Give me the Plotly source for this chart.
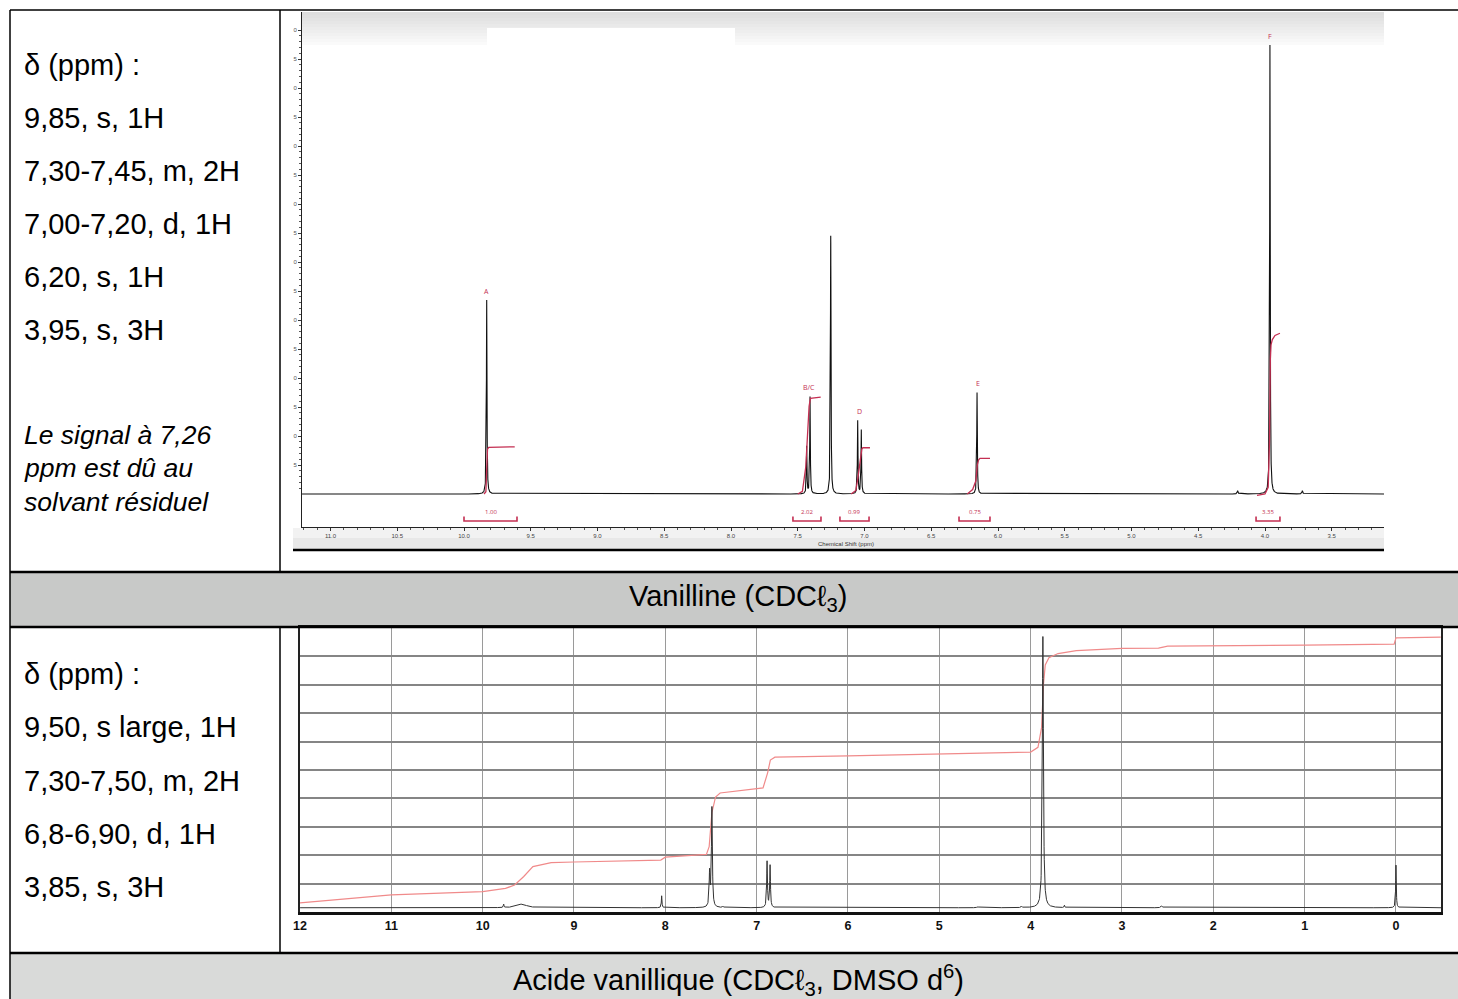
import numpy as np
import plotly.graph_objects as go

W, H = 1458, 999
def px(x): return x / W
def py(y): return 1 - y / H

FONT = "Liberation Sans, Arial, Helvetica, sans-serif"
RED = "#c42f52"
INT_RED = "#f08a8a"

# ---------------- Vanilline (CDCl3) : spectrum data ----------------
van_peak_ppm    = [9.830, 7.433, 7.408, 7.253, 7.051, 7.024, 6.157, 3.963, 4.205, 3.720]
van_peak_height = [43.2, 10.5, 21.6, 57.5, 16.3, 14.2, 22.6, 100.0, 0.7, 0.7]
van_peak_width  = [0.0025, 0.0025, 0.0025, 0.0025, 0.0025, 0.0025, 0.0025, 0.0025, 0.004, 0.004]

van_label_text = ["A", "B/C", "D", "E", "F"]
van_label_ppm  = [9.830, 7.415, 7.035, 6.152, 3.963]

van_int_ppm = [
    [9.850, 9.836, 9.830, 9.824, 9.815, 9.620],
    [7.500, 7.465, 7.440, 7.415, 7.405, 7.328],
    [7.100, 7.065, 7.050, 7.034, 7.020, 7.012, 6.959],
    [6.230, 6.190, 6.165, 6.155, 6.145, 6.135, 6.060],
    [4.060, 4.000, 3.976, 3.966, 3.960, 3.955, 3.945, 3.925, 3.888],
]
van_int_val = [
    [0, 0.5, 5.5, 10.0, 10.4, 10.5],
    [0, 0.6, 6.0, 19.5, 21.3, 21.6],
    [0, 0.8, 3.5, 7.6, 10.0, 10.3, 10.3],
    [0, 1.0, 3.0, 6.5, 7.6, 7.95, 7.95],
    [-0.3, 0, 1.5, 12, 30, 33.2, 34.4, 35.3, 35.8],
]

van_int_from = [10.000, 7.536, 7.184, 6.292, 4.067]
van_int_to   = [9.603, 7.326, 6.966, 6.060, 3.888]
van_int_text = ["1.00", "2.02", "0.99", "0.75", "3.35"]

van_text_lines = ["δ (ppm) :", "9,85, s, 1H", "7,30-7,45, m, 2H",
                  "7,00-7,20, d, 1H", "6,20, s, 1H", "3,95, s, 3H"]
van_note_lines = ["Le signal à 7,26", "ppm est dû au", "solvant résiduel"]

# ---------------- Acide vanillique : spectrum data ----------------
acid_peak_ppm    = [9.770, 9.570, 8.040, 7.515, 7.490, 7.370, 6.886, 6.853,
                    4.580, 4.100, 3.866, 3.630, 2.565, 0.000]
acid_peak_height = [0.12, 0.13, 0.42, 1.2, 3.5, 0.05, 1.62, 1.48,
                    0.03, 0.05, 9.55, 0.08, 0.07, 1.5]
acid_peak_width  = [0.004, 0.06, 0.004, 0.006, 0.006, 0.006, 0.005, 0.005,
                    0.01, 0.006, 0.007, 0.004, 0.01, 0.004]
acid_baseline = 0.15

acid_int_ppm = [12.0, 11.0, 10.0, 9.75, 9.65, 9.55, 9.45, 9.25, 9.0, 8.05, 8.0,
                7.55, 7.52, 7.49, 7.45, 7.4, 6.93, 6.88, 6.85, 6.8, 6.0, 5.0,
                4.0, 3.92, 3.88, 3.86, 3.84, 3.80, 3.7, 3.5, 3.0, 2.6, 2.5,
                1.0, 0.02, 0.0, -0.49]
acid_int_val = [0.32, 0.60, 0.72, 0.83, 0.95, 1.25, 1.60, 1.74, 1.76, 1.83, 1.93,
                2.03, 2.3, 3.5, 4.05, 4.19, 4.37, 4.9, 5.35, 5.45, 5.5, 5.56,
                5.63, 5.8, 6.5, 8.0, 8.7, 8.95, 9.1, 9.2, 9.28, 9.29, 9.36,
                9.40, 9.43, 9.65, 9.68]

acid_text_lines = ["δ (ppm) :", "9,50, s large, 1H", "7,30-7,50, m, 2H",
                   "6,8-6,90, d, 1H", "3,85, s, 3H"]

# ---------------- helpers ----------------
def lorentz_sum(grid, centers, heights, widths):
    y = np.zeros_like(grid)
    for c, h, w in zip(centers, heights, widths):
        y += h / (1.0 + ((grid - c) / w) ** 2)
    return y

TOP_X0, TOP_X1 = 11.2135, 3.1086
BOT_X0, BOT_X1 = 12.0, -0.493

fig = go.Figure()

# ---- top spectrum ----
grid_top = np.union1d(np.arange(TOP_X1, TOP_X0, 0.0005), np.array(van_peak_ppm))
spec_top = lorentz_sum(grid_top, van_peak_ppm, van_peak_height, van_peak_width)
fig.add_trace(go.Scatter(x=grid_top, y=spec_top, mode="lines",
                         line=dict(color="#111111", width=1.1),
                         xaxis="x", yaxis="y", hoverinfo="skip", showlegend=False))

ix, iy = [], []
for xs, vs in zip(van_int_ppm, van_int_val):
    ix += list(xs) + [None]
    iy += list(vs) + [None]
fig.add_trace(go.Scatter(x=ix, y=iy, mode="lines", line=dict(color=RED, width=1.3),
                         xaxis="x", yaxis="y", hoverinfo="skip", showlegend=False))

bx, by = [], []
for a, b in zip(van_int_from, van_int_to):
    bx += [a, a, b, b, None]
    by += [-5.0, -6.0, -6.0, -5.0, None]
fig.add_trace(go.Scatter(x=bx, y=by, mode="lines", line=dict(color=RED, width=1.6),
                         xaxis="x", yaxis="y", hoverinfo="skip", showlegend=False))

# ---- bottom spectrum ----
grid_bot = np.union1d(np.arange(BOT_X1, BOT_X0, 0.002), np.array(acid_peak_ppm))
spec_bot = acid_baseline + lorentz_sum(grid_bot, acid_peak_ppm, acid_peak_height, acid_peak_width)
fig.add_trace(go.Scatter(x=acid_int_ppm, y=acid_int_val, mode="lines",
                         line=dict(color=INT_RED, width=1.2),
                         xaxis="x2", yaxis="y2", hoverinfo="skip", showlegend=False))
fig.add_trace(go.Scatter(x=grid_bot, y=spec_bot, mode="lines",
                         line=dict(color="#333333", width=1.0),
                         xaxis="x2", yaxis="y2", hoverinfo="skip", showlegend=False))

# ---------------- shapes ----------------
shapes = []
def rect(x0, y0, x1, y1, fill, layer="below"):
    shapes.append(dict(type="rect", xref="paper", yref="paper",
                       x0=px(x0), x1=px(x1), y0=py(y1), y1=py(y0),
                       fillcolor=fill, line=dict(width=0), layer=layer))
def seg(x0, y0, x1, y1, w, c="black", layer="above"):
    shapes.append(dict(type="line", xref="paper", yref="paper",
                       x0=px(x0), x1=px(x1), y0=py(y0), y1=py(y1),
                       line=dict(color=c, width=w), layer=layer))

rect(10, 572, 1458, 627, "#c8c9c8")
rect(10, 953, 1458, 999, "#d9dad9")

# header gradient of the top spectrum picture
n = 11
for i in range(n):
    g = int(222 + (250 - 222) * i / (n - 1))
    rect(302, 12 + 3 * i, 1384, 15 + 3 * i, f"rgb({g},{g},{g})")
rect(487, 28, 735, 46, "white")
# footer of the top spectrum picture
rect(293, 528, 1384, 538, "#f2f2f2")
rect(293, 538, 1384, 549, "#e8e8e8")
seg(293, 550, 1384, 550, 2.5)

# table lines
seg(10, 10, 1458, 10, 1.5)
seg(10, 10, 10, 999, 1.5)
seg(280, 10, 280, 572, 1.5)
seg(280, 627, 280, 953, 1.5)
seg(10, 572, 1458, 572, 2.5)
seg(10, 627, 1458, 627, 2.5)
seg(10, 953, 1458, 953, 2.5)

# ---------------- annotations ----------------
ann = []
def text(x, y, s, size, color="black", xanchor="left", italic=False, family=FONT):
    ann.append(dict(xref="paper", yref="paper", x=px(x), y=py(y), text=(f"<i>{s}</i>" if italic else s),
                    showarrow=False, xanchor=xanchor, yanchor="middle",
                    font=dict(family=family, size=size, color=color)))

for i, s in enumerate(van_text_lines):
    text(22, 65 + 53 * i, s, 29)
for i, s in enumerate(van_note_lines):
    text(22, 435 + 33.5 * i, s, 26.5, italic=True)
for i, s in enumerate(acid_text_lines):
    text(22, 674 + 53.25 * i, s, 29)

text(738, 598, "Vanilline (CDCℓ<sub>3</sub>)", 29, xanchor="center")
text(738, 980, "Acide vanillique (CDCℓ<sub>3</sub>, DMSO d<sup>6</sup>)", 29, xanchor="center")
text(846, 544, "Chemical Shift (ppm)", 6, color="#333333", xanchor="center")

for lab, p in zip(van_label_text, van_label_ppm):
    m = (grid_top > p - 0.03) & (grid_top < p + 0.03)
    top = spec_top[m].max()
    ann.append(dict(xref="x", yref="y", x=p, y=top + 1.9, text=lab, showarrow=False,
                    xanchor="center", yanchor="middle",
                    font=dict(family="Open Sans, sans-serif", size=7, color=RED)))
for a, b, t in zip(van_int_from, van_int_to, van_int_text):
    ann.append(dict(xref="x", yref="y", x=(a + b) / 2, y=-4.0, text=t, showarrow=False,
                    xanchor="center", yanchor="middle",
                    font=dict(family="Open Sans, sans-serif", size=6, color=RED)))

# ---------------- axes ----------------
U = 29 / 4.49  # spacing of the left ticks of the top picture, in intensity units
ytv = [k * U for k in range(1, 17)]
ytt = ["0" if k % 2 == 0 else "5" for k in range(1, 17)]
ymin = [k * U / 5 for k in range(1, 81)]

fig.update_layout(
    width=W, height=H, autosize=False,
    margin=dict(l=0, r=0, t=0, b=0, pad=0),
    paper_bgcolor="white", plot_bgcolor="rgba(0,0,0,0)",
    showlegend=False,
    shapes=shapes, annotations=ann,
    xaxis=dict(domain=[px(302), px(1384)], range=[TOP_X0, TOP_X1], anchor="y",
               showline=True, linecolor="#222222", linewidth=1,
               ticks="outside", ticklen=3, tickwidth=1, tickcolor="#333333",
               tickmode="linear", tick0=0, dtick=0.5, tickformat=".1f",
               tickfont=dict(family=FONT, size=6, color="#444444"),
               minor=dict(ticks="outside", ticklen=2, tickcolor="#555555",
                          tickmode="linear", tick0=0, dtick=0.1, showgrid=False),
               showgrid=False, zeroline=False, automargin=False, fixedrange=True),
    yaxis=dict(domain=[py(527), py(12)], range=[-7.35, 107.35], anchor="x",
               showline=True, linecolor="#222222", linewidth=1,
               ticks="outside", ticklen=3, tickwidth=1, tickcolor="#333333",
               tickmode="array", tickvals=ytv, ticktext=ytt,
               tickfont=dict(family=FONT, size=6, color="#555555"),
               minor=dict(ticks="outside", ticklen=2, tickcolor="#555555",
                          tickmode="array", tickvals=ymin, showgrid=False),
               showgrid=False, zeroline=False, automargin=False, fixedrange=True),
    xaxis2=dict(domain=[px(300), px(1441)], range=[BOT_X0, BOT_X1], anchor="y2",
                showline=True, linecolor="#111111", linewidth=2.5, mirror=True,
                ticks="", tickmode="linear", tick0=0, dtick=1,
                tickfont=dict(family=FONT, size=12.5, color="#111111", weight="bold"),
                showgrid=True, gridcolor="#9a9a9a", gridwidth=1,
                zeroline=False, automargin=False, fixedrange=True),
    yaxis2=dict(domain=[py(912), py(628)], range=[0, 10], anchor="x2",
                showline=True, linecolor="#222222", linewidth=1.5, mirror=True,
                tickmode="linear", tick0=0, dtick=1, showticklabels=False, ticks="",
                showgrid=True, gridcolor="#858585", gridwidth=1.5,
                zeroline=False, automargin=False, fixedrange=True),
)

fig.write_html("out.html")
